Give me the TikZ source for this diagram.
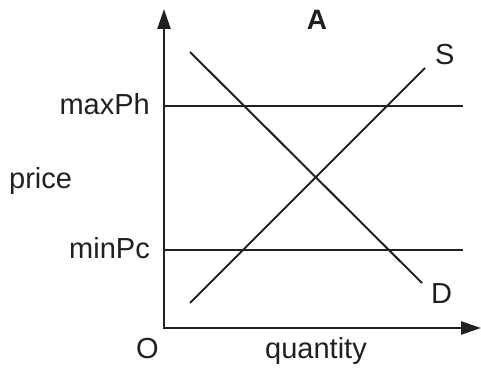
\documentclass[tikz,border=0pt]{standalone}
\usepackage{fontspec}
\setmainfont{Liberation Sans}
\usetikzlibrary{arrows.meta}
\definecolor{ink}{HTML}{231F20}
\tikzset{
  axis/.style={draw=ink, line width=2.4pt, {Triangle[length=20pt,width=13pt]}-{Triangle[length=20pt,width=13pt]}},
  curve/.style={draw=ink, line width=2pt},
  lbl/.style={inner sep=0pt, text=ink, font=\fontsize{29}{31}\selectfont},
  title/.style={inner sep=0pt, text=ink, font=\fontsize{28}{30}\selectfont\bfseries}
}
\begin{document}
\begin{tikzpicture}[x=1pt,y=-1pt]
\useasboundingbox (0,0) rectangle (481,374);
\coordinate (ytop) at (164,9);
\coordinate (origin) at (164,328);
\coordinate (xend) at (481,328);
\coordinate (hL) at (164,106);
\coordinate (hR) at (463,106);
\coordinate (cL) at (164,250);
\coordinate (cR) at (463,250);
\coordinate (s1) at (190,303);
\coordinate (s2) at (425,68);
\coordinate (d1) at (190,52);
\coordinate (d2) at (422,283);
\draw[axis] (ytop) -- (origin) -- (xend);
\draw[curve] (hL) -- (hR);
\draw[curve] (cL) -- (cR);
\draw[curve] (s1) -- (s2);
\draw[curve] (d1) -- (d2);
\node[title, anchor=base] (A) at (317,30) {A};
\node[lbl, anchor=base west] (S) at (435,65) {S};
\node[lbl, anchor=base west] (D) at (431,303) {D};
\node[lbl, anchor=base east] (maxPh) at (150,115) {maxPh};
\node[lbl, anchor=base west] (price) at (9,188) {price};
\node[lbl, anchor=base east] (minPc) at (150,258) {minPc};
\node[lbl, anchor=base west] (O) at (136,358) {O};
\node[lbl, anchor=base] (q) at (316,358) {quantity};
\end{tikzpicture}
\end{document}
